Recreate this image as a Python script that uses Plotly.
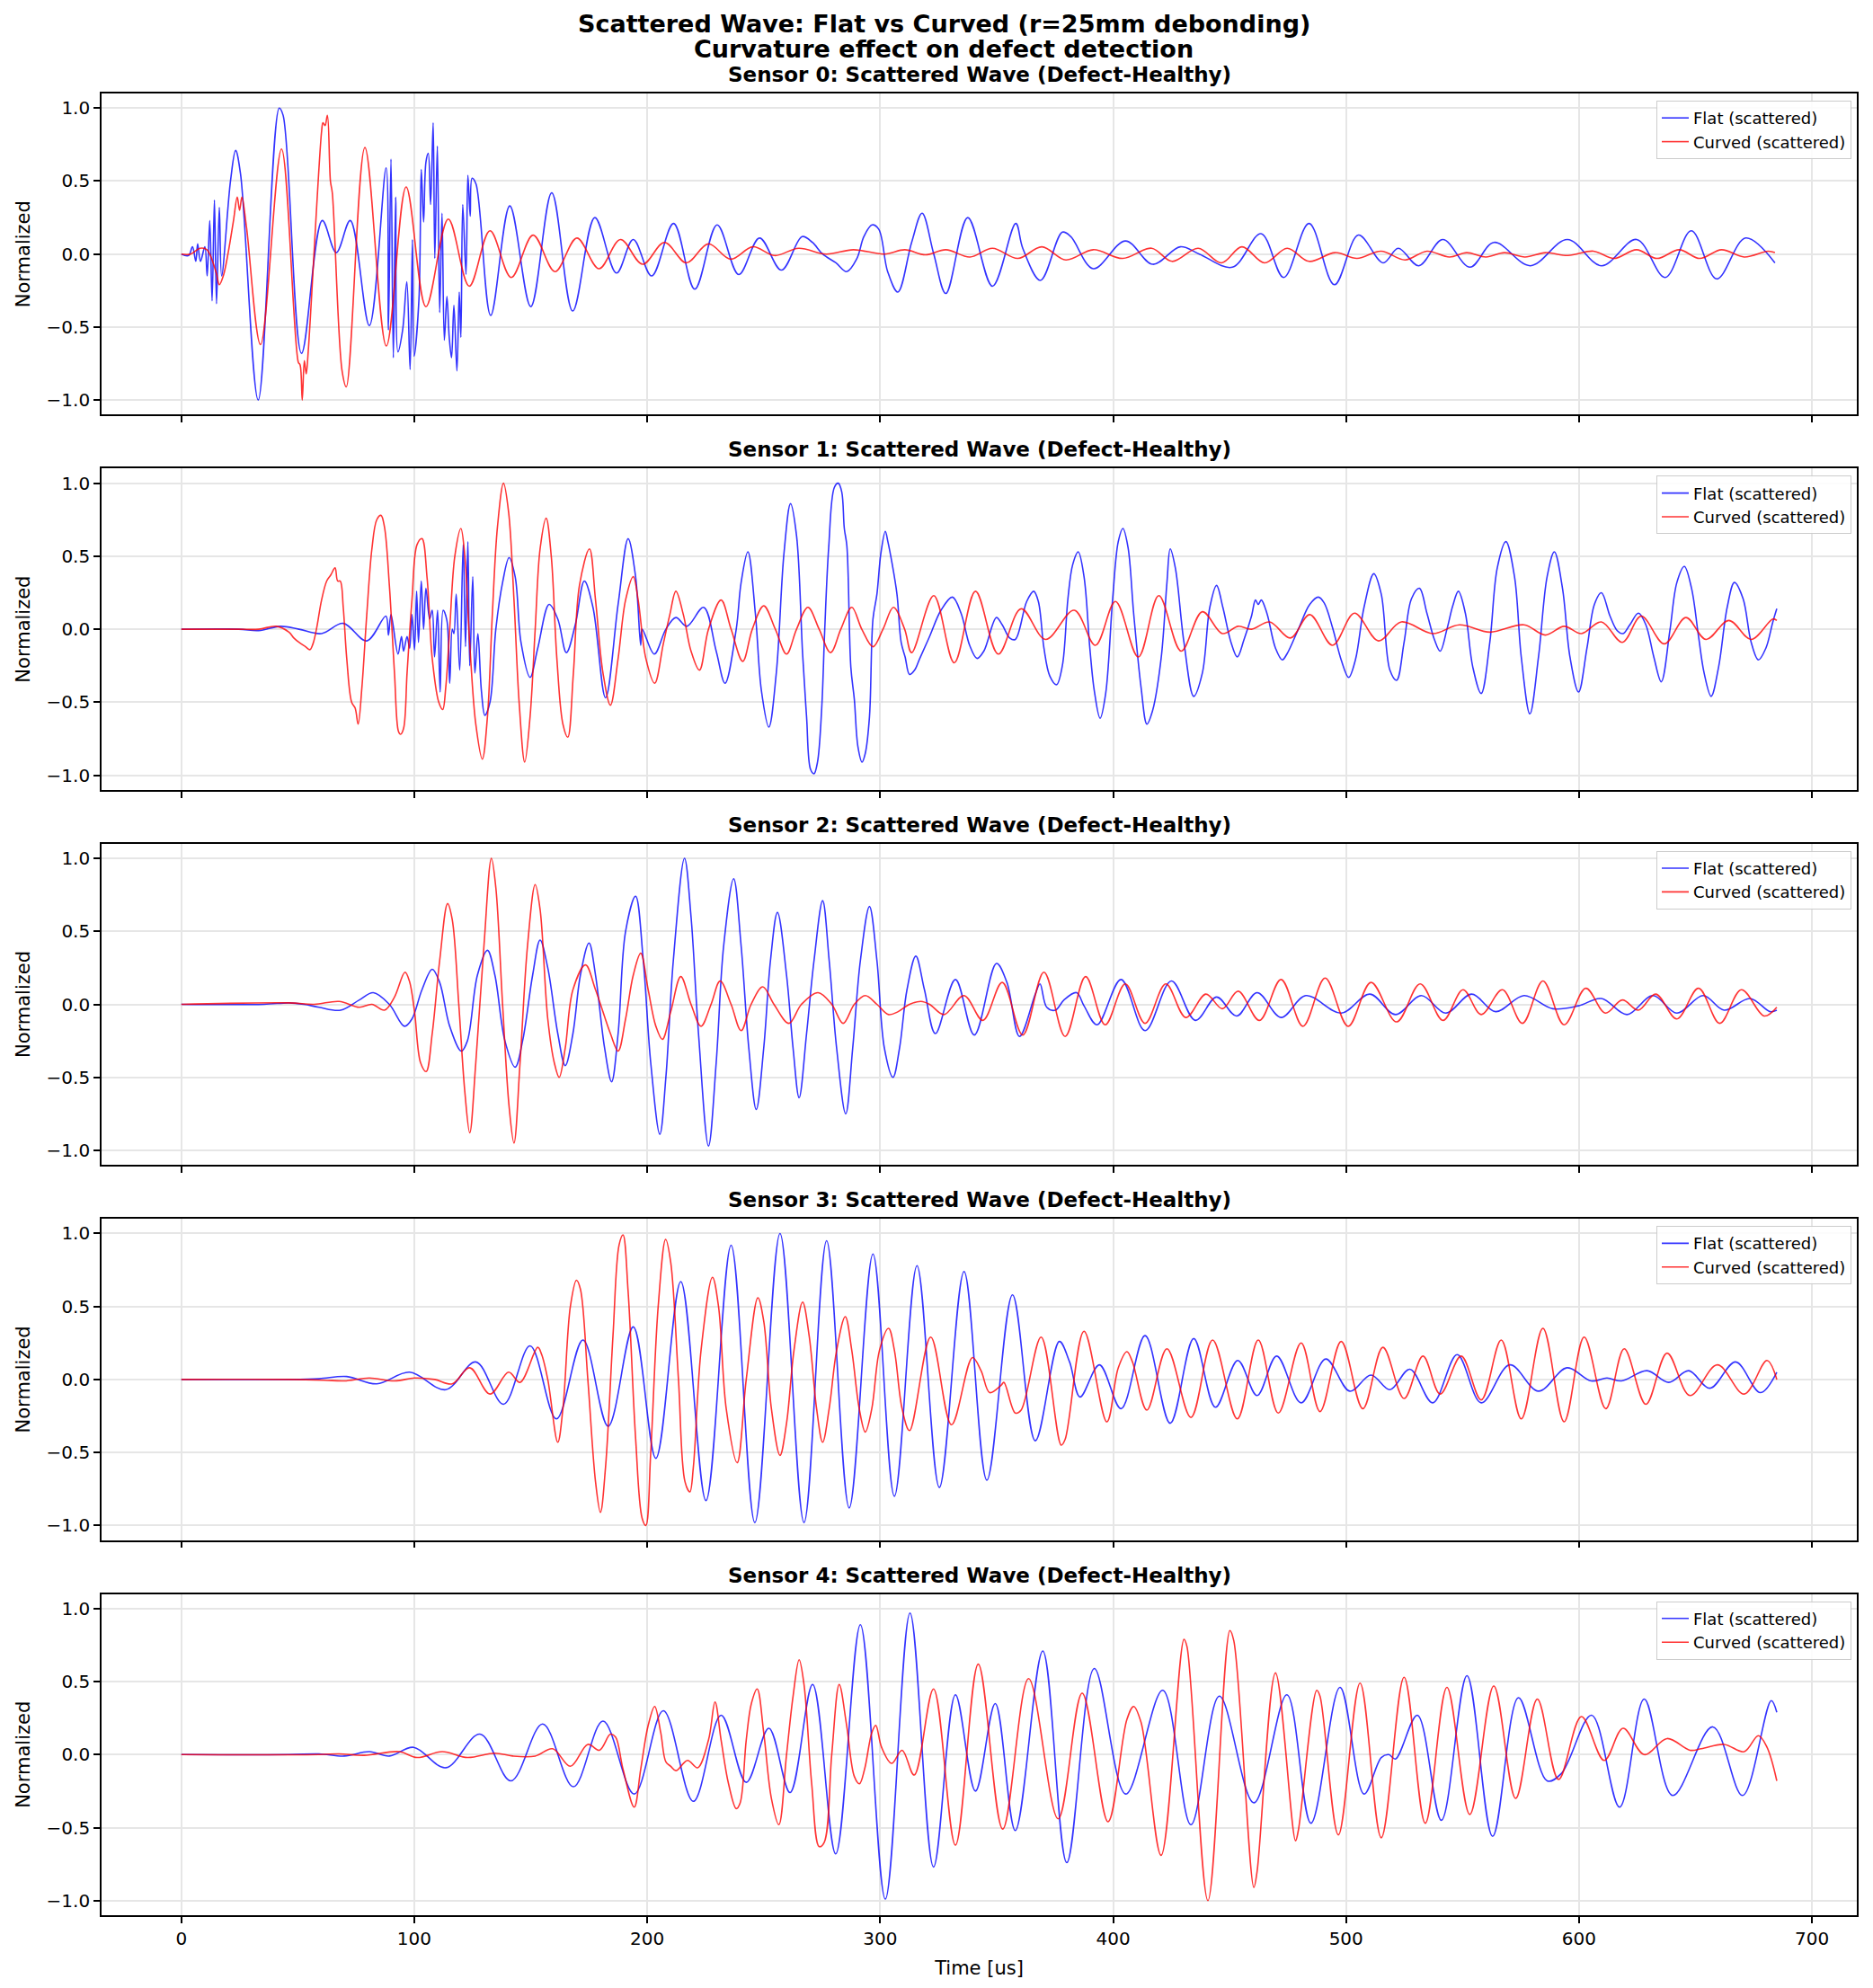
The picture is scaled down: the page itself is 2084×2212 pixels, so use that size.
import plotly.graph_objects as go
from plotly.subplots import make_subplots

# (time_us, normalized) points, one list per trace
s0_flat = [(0, 0), (3.1, -0.01), (4.8, 0.05), (6.2, -0.05), (7.0, 0.07), (8.2, -0.05), (10.1, 0.05), (11.1, -0.15),
           (12.2, 0.23), (13.2, -0.32), (14.2, 0.37), (15.1, -0.34), (16.3, 0.32), (17.3, -0.15), (21.1, 0.5),
           (23.3, 0.71), (25.4, 0.55), (33, -1.0), (42, 1.0), (43.7, 0.95), (51.6, -0.68), (60.5, 0.23), (66.5, 0.01),
           (72.5, 0.23), (80.7, -0.49), (87.9, 0.59), (88.9, -0.52), (90, 0.65), (91, -0.71), (92, 0.39), (93, -0.67),
           (95, -0.52), (96.8, -0.19), (98.2, -0.79), (99.2, 0.1), (99.9, -0.7), (102, -0.31), (103, 0.58), (104, 0.22),
           (105, 0.63), (106, 0.69), (107, 0.34), (108.1, 0.9), (108.8, -0.03), (109.9, 0.74), (110.9, -0.4),
           (111.9, 0.28), (112.9, -0.59), (114, -0.29), (115, -0.57), (116, -0.71), (117, -0.35), (118.3, -0.8),
           (119.3, -0.26), (120, -0.57), (120.8, 0.34), (122.2, -0.14), (123, 0.54), (124, 0.26), (124.8, 0.52),
           (126.5, 0.48), (132.8, -0.42), (141, 0.33), (150, -0.36), (159, 0.42), (168, -0.39), (177.5, 0.25),
           (186.8, -0.13), (194, 0.1), (201.9, -0.15), (211.3, 0.21), (220.4, -0.24), (230, 0.2), (239.3, -0.14),
           (248.2, 0.11), (257.6, -0.11), (266.5, 0.12), (270.9, 0.08), (275.3, 0.0), (281, -0.06), (285.6, -0.12),
           (290, -0.03), (293, 0.12), (296.5, 0.2), (299.4, 0.17), (303.2, -0.12), (307.6, -0.26), (313.5, 0.08),
           (318, 0.28), (323, 0.0), (328.2, -0.27), (337.6, 0.25), (348.2, -0.22), (358.2, 0.21), (361.2, 0.04),
           (368.8, -0.18), (378.2, 0.15), (381.8, 0.12), (391.5, -0.1), (405.3, 0.09), (417, -0.07), (428.8, 0.05),
           (437, 0.0), (451.2, -0.09), (463.5, 0.14), (473.2, -0.16), (484.1, 0.21), (495, -0.21), (505.3, 0.13),
           (515.9, -0.06), (522.4, 0.04), (531.2, -0.08), (541.5, 0.1), (553.2, -0.09), (563.5, 0.08), (579.1, -0.08),
           (595, 0.1), (609.7, -0.08), (624.7, 0.1), (637, -0.16), (648.2, 0.16), (659.1, -0.17), (671.5, 0.11),
           (684.1, -0.06)]
s0_curved = [(0, 0), (4, 0.0), (8, 0.04), (11, 0.03), (15, -0.13), (16.3, -0.21), (18, -0.15), (20, 0.0), (22.3, 0.22),
             (24, 0.39), (25, 0.3), (26, 0.39), (28, 0.18), (34, -0.62), (43, 0.72), (50.2, -0.74), (51, -0.76),
             (51.9, -1.0), (52.8, -0.73), (53.6, -0.82), (54.5, -0.66), (60.2, 0.84), (60.8, 0.9), (61.7, 0.88),
             (62.7, 0.95), (64, 0.5), (64.8, 0.42), (69, -0.8), (70.8, -0.91), (78.8, 0.73), (88, -0.63), (96.5, 0.46),
             (105, -0.36), (114.6, 0.24), (123.6, -0.22), (132.5, 0.16), (141.6, -0.16), (151, 0.13), (160.4, -0.12),
             (169.8, 0.11), (179.3, -0.1), (188.5, 0.1), (198, -0.07), (207.4, 0.08), (216.8, -0.06), (226.2, 0.07),
             (235.8, -0.035), (245.3, 0.05), (254.7, -0.01), (265, 0.04), (276.8, 0.0), (288.5, 0.03), (301.8, 0.0),
             (310.6, 0.03), (319.4, -0.005), (328.2, 0.03), (338.5, -0.02), (348.2, 0.04), (359.1, -0.03),
             (369.4, 0.05), (379.7, -0.04), (391.5, 0.03), (404.1, -0.03), (416.5, 0.04), (425.3, -0.05),
             (436.5, 0.04), (446.5, -0.06), (455.3, 0.05), (465, -0.06), (474.7, 0.04), (484.1, -0.05), (495.3, 0.01),
             (504.7, -0.03), (515, 0.02), (525.3, -0.04), (534.7, 0.02), (544.4, -0.02), (551.8, 0.01), (560, -0.02),
             (568, 0.01), (576.8, -0.02), (585.6, 0.01), (595.3, -0.01), (606.2, 0.02), (615, -0.03), (624.7, 0.03),
             (633.5, -0.03), (643, 0.03), (651.8, -0.03), (661.2, 0.03), (670.9, -0.02), (681.2, 0.02), (684.1, 0.01)]

s1_flat = [(0, 0), (24.6, 0), (33.2, -0.01), (42.5, 0.02), (50.5, 0.0), (60.2, -0.03), (69.5, 0.04), (79.6, -0.08),
           (87.8, 0.09), (88.9, -0.04), (90, 0.1), (93, -0.17), (94.5, -0.05), (95.4, -0.15), (96.9, -0.05),
           (98, -0.13), (99, 0.1), (100.1, -0.14), (101, 0.26), (101.8, -0.09), (103, 0.33), (104, 0.0), (105, 0.28),
           (106.6, 0.07), (107.7, 0.13), (108.7, -0.19), (110, 0.13), (111.1, -0.43), (112.4, 0.13), (114, 0.06),
           (115.2, -0.37), (116.3, 0.0), (117, -0.03), (118, 0.24), (119.5, -0.28), (121, 0.58), (122, -0.12),
           (123, 0.6), (123.8, -0.25), (125.1, 0.36), (126, -0.3), (127.3, -0.03), (128.8, -0.42), (130.3, -0.59),
           (132.5, -0.5), (135, 0.0), (137.9, 0.32), (140.7, 0.49), (143.3, 0.36), (145.8, -0.09), (149.7, -0.33),
           (153, -0.13), (157.9, 0.17), (161.6, 0.07), (165.3, -0.16), (169.1, 0.03), (173, 0.33), (176.7, 0.15),
           (182.1, -0.47), (187.5, 0.17), (191.8, 0.62), (195, 0.36), (197.2, -0.11), (197.8, 0.0), (203, -0.17),
           (208, 0.0), (212.3, 0.08), (217, 0.02), (224.2, 0.15), (229.6, -0.15), (233.4, -0.37), (238.2, 0.0),
           (240.3, 0.32), (243.2, 0.53), (246.4, 0.11), (249, -0.42), (252.2, -0.67), (255.4, -0.3), (258.7, 0.52),
           (261.5, 0.86), (264.1, 0.64), (266.7, -0.17), (268.4, -0.6), (270.1, -0.96), (271.6, -0.99),
           (273.1, -0.91), (274.9, -0.54), (276.2, 0.0), (277.9, 0.56), (280.3, 0.97), (282, 1.0), (283.5, 0.94),
           (284.6, 0.69), (285.7, 0.57), (287.4, -0.26), (288.9, -0.48), (290.4, -0.8), (292.2, -0.91),
           (293.6, -0.85), (295.4, -0.6), (296.9, 0.07), (298.6, 0.24), (300.3, 0.52), (302.2, 0.67), (303.3, 0.6),
           (305, 0.46), (307.2, 0.24), (309, -0.09), (310.7, -0.19), (312.6, -0.31), (314.8, -0.28), (317, -0.2),
           (321.2, -0.05), (326.1, 0.13), (331, 0.22), (334.7, 0.11), (338.4, -0.11), (341.6, -0.2), (344.5, -0.15),
           (349.9, 0.08), (352.4, 0.03), (355.6, -0.06), (358, -0.07), (362.9, 0.19), (365.9, 0.26), (367.9, 0.19),
           (370.3, -0.13), (372.8, -0.32), (375.7, -0.38), (378.2, -0.25), (380.6, 0.21), (382.6, 0.44),
           (385, 0.53), (387.5, 0.36), (390, -0.13), (391.9, -0.42), (394.4, -0.61), (396.8, -0.44), (399.8, 0.21),
           (402.2, 0.6), (404.2, 0.69), (406.4, 0.56), (408.8, 0.11), (412, -0.4), (414.5, -0.65), (416.9, -0.56),
           (420.6, -0.2), (423.1, 0.32), (424.5, 0.55), (426.7, 0.42), (430.4, -0.09), (434.6, -0.46),
           (438.3, -0.3), (441.5, 0.15), (444.4, 0.3), (447.1, 0.15), (450.6, -0.09), (453.3, -0.19),
           (456.2, -0.07), (459.4, 0.09), (461.1, 0.2), (462.3, 0.17), (463.6, 0.2), (466, 0.11), (469.7, -0.13),
           (472.6, -0.21), (474.6, -0.17), (479.5, 0.0), (484.4, 0.17), (488.1, 0.22), (490.6, 0.18),
           (494.2, 0.01), (497.9, -0.21), (501.1, -0.33), (504, -0.21), (507.7, 0.15), (511.9, 0.38),
           (515.1, 0.24), (518.8, -0.28), (521.7, -0.35), (524.9, -0.09), (528.1, 0.21), (531.5, 0.28),
           (534.7, 0.11), (537.9, -0.07), (540.4, -0.15), (543.3, 0.0), (545.8, 0.16), (548.2, 0.26),
           (551.2, 0.11), (554.4, -0.26), (558, -0.44), (561.7, -0.09), (564.9, 0.42), (568.6, 0.6),
           (572.3, 0.36), (575.2, -0.19), (578.9, -0.58), (582.6, -0.19), (586.3, 0.36), (589.4, 0.53),
           (592.9, 0.28), (596.1, -0.19), (599.8, -0.43), (603.4, -0.13), (606.6, 0.17), (609.6, 0.25),
           (613.3, 0.09), (616.4, -0.01), (618.9, -0.03), (621.8, 0.03), (625.5, 0.11), (628.7, 0.03),
           (632.1, -0.19), (635.3, -0.36), (639, -0.01), (642, 0.32), (645.2, 0.43), (648.3, 0.28),
           (651.3, -0.05), (653.7, -0.3), (656.7, -0.46), (659.9, -0.26), (663.6, 0.15), (666.7, 0.32),
           (670.4, 0.21), (673.9, -0.09), (677, -0.21), (680.2, -0.13), (683.2, 0.05), (684.9, 0.14)]
s1_curved = [(0, 0), (24.6, 0), (33.2, 0.0), (40.8, 0.02), (46.2, -0.02), (48.3, -0.06), (50.5, -0.09), (53.3, -0.12),
             (55.2, -0.14), (56.5, -0.1), (58, 0.0), (60.2, 0.2), (62.4, 0.33), (64.1, 0.37), (66, 0.42),
             (67.1, 0.33), (68.2, 0.33), (69.5, 0.15), (71, -0.2), (73.1, -0.5), (74.6, -0.54), (75.9, -0.65),
             (77.5, -0.4), (79.6, 0.1), (81.8, 0.55), (83.9, 0.75), (85.7, 0.78), (87.2, 0.7), (89.3, 0.3),
             (91.5, -0.3), (93.2, -0.7), (94.1, -0.72), (95.4, -0.68), (96.9, -0.3), (99, 0.2), (101.2, 0.58),
             (103.3, 0.62), (105.5, 0.35), (107.7, -0.2), (110.5, -0.5), (112.2, -0.55), (113.5, -0.4), (115.2, 0.0),
             (117.4, 0.5), (120, 0.69), (121.7, 0.5), (123.8, -0.1), (126.4, -0.65), (129.2, -0.89), (131.4, -0.6),
             (133.5, 0.1), (135.7, 0.7), (138.3, 1.0), (140.5, 0.8), (142.8, 0.2), (145, -0.5), (147.4, -0.91),
             (149.7, -0.6), (151.9, 0.0), (154, 0.55), (156.6, 0.76), (158.8, 0.5), (161.2, -0.2), (163.8, -0.65),
             (165.9, -0.74), (168.3, -0.3), (170.9, 0.3), (175.2, 0.55), (177.8, 0.2), (181, -0.3), (184.2, -0.52),
             (187.5, -0.2), (190.7, 0.2), (194, 0.36), (196.1, 0.2), (199.4, -0.2), (203.2, -0.37), (206.9, -0.1),
             (209.7, 0.1), (212.3, 0.26), (215.5, 0.1), (218.8, -0.15), (222.4, -0.28), (226.3, 0.0), (231.7, 0.2),
             (236, 0.0), (241, -0.22), (245.1, 0.0), (250, 0.16), (255, 0.0), (259.8, -0.17), (264.1, 0.0),
             (269, 0.15), (273.8, 0.0), (278.7, -0.16), (283.1, 0.0), (287.8, 0.15), (292.1, 0.0), (296.9, -0.12),
             (301.2, 0.0), (305.7, 0.15), (310.5, 0.0), (313.5, -0.16), (323, 0.23), (331.8, -0.23), (340.9, 0.26),
             (350.7, -0.17), (360.5, 0.14), (371, -0.07), (383.3, 0.13), (392.4, -0.11), (401, 0.19),
             (410.8, -0.19), (419.6, 0.23), (429.2, -0.15), (438.3, 0.12), (446.9, -0.03), (453.7, 0.02),
             (459.4, 0.0), (467.2, 0.05), (476.1, -0.06), (484.4, 0.1), (494.2, -0.11), (503.6, 0.11),
             (513.9, -0.08), (523.7, 0.05), (537.2, -0.03), (548.7, 0.03), (561.7, -0.02), (576.4, 0.03),
             (585.5, -0.04), (593.6, 0.02), (601, -0.03), (609.6, 0.05), (618.6, -0.09), (626.7, 0.09),
             (636.6, -0.1), (645.9, 0.08), (654.5, -0.07), (664.3, 0.06), (673.9, -0.07), (683.2, 0.07),
             (684.9, 0.06)]

s2_flat = [(0, 0), (35.4, 0), (46.2, 0.01), (52.6, 0.0), (59.1, -0.02), (68.4, -0.04), (76.4, 0.03), (82.4, 0.08),
           (89.3, 0.0), (95.8, -0.15), (99, -0.1), (103.3, 0.1), (107.7, 0.24), (110.9, 0.15), (115.2, -0.15),
           (120.2, -0.32), (122.8, -0.25), (127.1, 0.2), (131.4, 0.37), (134.6, 0.2), (138.9, -0.25), (143.3, -0.43),
           (146.5, -0.25), (150.8, 0.2), (154, 0.44), (157.3, 0.25), (161.6, -0.2), (164.8, -0.42), (168.1, -0.2),
           (171.3, 0.2), (175, 0.42), (177.8, 0.2), (181.7, -0.3), (184.7, -0.53), (187.5, -0.2), (190.7, 0.5),
           (195, 0.74), (198.3, 0.3), (201.5, -0.4), (205.4, -0.89), (208, -0.5), (211.2, 0.3), (216, 1.0),
           (218.8, 0.6), (222, -0.2), (226.3, -0.97), (229.6, -0.4), (232.8, 0.4), (237.1, 0.86), (240.3, 0.4),
           (243.6, -0.3), (246.8, -0.72), (250, -0.3), (252.9, 0.3), (255.9, 0.63), (259.8, 0.2), (262.6, -0.3),
           (265.2, -0.64), (268.4, -0.2), (271.6, 0.3), (275.3, 0.71), (278.1, 0.3), (281.3, -0.3), (285.2, -0.75),
           (288.2, -0.3), (291.5, 0.3), (295.4, 0.67), (298.6, 0.3), (301.8, -0.3), (305.5, -0.5), (308.3, -0.3),
           (311.5, 0.1), (315.3, 0.33), (319, 0.1), (323.7, -0.2), (332.3, 0.17), (340.4, -0.21), (349.9, 0.28),
           (354.4, 0.15), (359.8, -0.22), (366.6, 0.07), (368.6, 0.14), (371.5, -0.02), (375.2, -0.04),
           (378.9, 0.03), (384.3, 0.08), (387.5, -0.01), (393.1, -0.14), (403.4, 0.17), (413.7, -0.18), (425, 0.16),
           (435.3, -0.11), (444.4, 0.05), (453, -0.08), (461.8, 0.08), (472.1, -0.09), (482.7, 0.06),
           (497.9, -0.06), (510.2, 0.07), (521.2, -0.07), (532.3, 0.06), (542.8, -0.06), (553.9, 0.07),
           (564.2, -0.05), (576.4, 0.06), (588.7, -0.03), (599.8, -0.01), (609.6, 0.04), (620.6, -0.07),
           (631.7, 0.06), (642, -0.06), (653.3, 0.06), (662.3, -0.04), (673.4, 0.04), (682, -0.05), (684.9, -0.04)]
s2_curved = [(0, 0), (46.2, 0.01), (57, 0.0), (67.7, 0.02), (76.4, -0.02), (81.8, 0.0), (87.2, -0.04), (91.5, 0.05),
             (96, 0.22), (97.9, 0.16), (100.1, -0.05), (102.7, -0.4), (105.1, -0.46), (107.7, -0.2), (110.9, 0.3),
             (114.3, 0.69), (116.3, 0.58), (119.1, 0.0), (121.7, -0.6), (123.8, -0.88), (126.4, -0.4), (129.9, 0.4),
             (133.1, 1.0), (135, 0.8), (137.9, 0.0), (140.7, -0.7), (142.8, -0.95), (145.4, -0.4), (148.6, 0.4),
             (151.9, 0.82), (154, 0.65), (157.3, -0.1), (160.1, -0.4), (162.2, -0.5), (164.8, -0.3), (168.1, 0.1),
             (173.5, 0.27), (177.8, 0.1), (184.2, -0.2), (187.5, -0.32), (190.7, -0.1), (194, 0.2), (197.2, 0.35),
             (200.4, 0.1), (203.7, -0.15), (206.5, -0.24), (210.1, -0.05), (214.4, 0.19), (218.8, 0.0),
             (223.1, -0.15), (227.4, 0.0), (231.3, 0.16), (236, 0.0), (240.3, -0.18), (244.6, 0.0), (249.6, 0.12),
             (254.4, 0.0), (260.8, -0.13), (266.2, 0.0), (273.3, 0.08), (279.2, 0.0), (284.1, -0.13), (288.9, 0.0),
             (293.6, 0.06), (298.6, 0.0), (303.6, -0.07), (307.7, -0.05), (312.6, 0.0), (317.5, 0.02), (321.2, 0.0),
             (327.4, -0.07), (336, 0.06), (344.1, -0.11), (352.4, 0.15), (361.2, -0.21), (370.3, 0.22),
             (379.4, -0.22), (388.2, 0.19), (396.6, -0.14), (405.2, 0.14), (413.7, -0.13), (422.6, 0.14),
             (431.2, -0.09), (439.8, 0.07), (446.9, -0.03), (453.7, 0.09), (462.8, -0.11), (472.1, 0.17),
             (481.5, -0.15), (491, 0.18), (500.9, -0.15), (510.7, 0.15), (521.7, -0.12), (531.8, 0.14),
             (541.6, -0.11), (550.2, 0.1), (558, -0.07), (567.1, 0.1), (575.7, -0.13), (584.5, 0.16),
             (593.6, -0.14), (602.9, 0.11), (611.3, -0.06), (618.6, 0.03), (625.5, -0.04), (632.9, 0.07),
             (642, -0.1), (651.3, 0.11), (660.4, -0.13), (669.7, 0.1), (679.5, -0.08), (684.9, -0.02)]

s3_flat = [(0, 0), (46.2, 0), (59.1, 0.005), (71, 0.02), (83.9, -0.03), (98, 0.05), (113.5, -0.07), (126.4, 0.12),
           (138.3, -0.17), (149.7, 0.23), (161, -0.27), (172.4, 0.27), (183.2, -0.32), (194, 0.36), (203.7, -0.54),
           (214.4, 0.67), (225.2, -0.83), (236, 0.92), (246.2, -0.98), (257, 1.0), (267.3, -0.98), (277, 0.95),
           (286.7, -0.88), (296.9, 0.86), (306.1, -0.8), (315.8, 0.78), (325.4, -0.74), (336, 0.74), (345.8, -0.69),
           (356.8, 0.58), (366.6, -0.42), (376.9, 0.26), (381.3, 0.12), (385.8, -0.12), (394.1, 0.1), (403.4, -0.2),
           (413.7, 0.3), (424.5, -0.3), (434.6, 0.28), (443.9, -0.19), (453.5, 0.13), (461.8, -0.11), (470.2, 0.16),
           (480.7, -0.16), (491.3, 0.14), (501.6, -0.08), (510.7, 0.03), (518.8, -0.07), (527.4, 0.07),
           (537.2, -0.16), (547.7, 0.17), (558, -0.16), (570.3, 0.1), (582.6, -0.08), (594.8, 0.08),
           (605.2, -0.01), (612, 0.01), (618.2, -0.01), (629.2, 0.06), (638.5, -0.02), (647.1, 0.06),
           (656.2, -0.06), (667.2, 0.12), (677.8, -0.09), (684.9, 0.05)]
s3_curved = [(0, 0), (46.2, 0), (61.3, -0.005), (69.9, -0.01), (80.7, 0.01), (91.5, -0.01), (100.1, 0.01), (108.7, 0.0),
             (116.3, -0.03), (123.8, 0.08), (132.5, -0.1), (140.5, 0.05), (145.4, -0.02), (153, 0.22), (154.7, 0.17),
             (157.3, 0.0), (161.6, -0.43), (163.8, -0.2), (167, 0.5), (169.6, 0.68), (171.3, 0.62), (174.5, 0.0),
             (177.8, -0.7), (179.9, -0.91), (182.1, -0.6), (185.3, 0.3), (187.9, 0.92), (189.6, 0.99), (191.8, 0.6),
             (195, -0.4), (197.8, -0.95), (199.4, -1.0), (201.5, -0.5), (204.7, 0.5), (207.9, 0.96), (210.1, 0.8),
             (213.4, 0.0), (216.2, -0.7), (218.3, -0.77), (219.8, -0.6), (223.1, 0.2), (228, 0.7), (230.6, 0.5),
             (233.9, -0.2), (238.6, -0.57), (242.5, 0.0), (247.5, 0.56), (250, 0.4), (253.3, -0.2), (257, -0.52),
             (259.8, -0.3), (263, 0.2), (266.7, 0.53), (269.5, 0.3), (272.7, -0.2), (275.3, -0.43), (278.1, -0.2),
             (281.3, 0.2), (285, 0.43), (287.8, 0.2), (291, -0.2), (293.6, -0.36), (296.4, -0.2), (299.7, 0.2),
             (303.6, 0.35), (306.1, 0.2), (309.4, -0.2), (312.6, -0.35), (321.7, 0.29), (330.6, -0.31),
             (339.6, 0.15), (343.3, 0.06), (347, -0.09), (351.9, -0.04), (353.1, -0.02), (358, -0.23),
             (360.5, -0.21), (369.1, 0.29), (377.7, -0.45), (379.4, -0.41), (387.5, 0.33), (397.3, -0.29),
             (402.2, 0.08), (405.9, 0.19), (408.3, 0.12), (414.5, -0.21), (423.1, 0.21), (433.4, -0.26),
             (442.7, 0.27), (453.3, -0.27), (462.3, 0.27), (470.9, -0.23), (480.7, 0.25), (488.8, -0.22),
             (497.9, 0.26), (507.2, -0.2), (515.8, 0.22), (524.9, -0.13), (533, 0.16), (540.4, -0.1),
             (549.4, 0.16), (558, -0.14), (566.6, 0.27), (575.2, -0.27), (584.5, 0.35), (593.6, -0.29),
             (602.2, 0.29), (611.5, -0.2), (619.4, 0.21), (628.7, -0.17), (637.8, 0.18), (647.6, -0.11),
             (659.4, 0.1), (670.9, -0.1), (680.7, 0.13), (684.9, 0.0)]

s4_flat = [(0, 0), (46.2, 0), (59.1, 0.005), (69.9, -0.01), (80.7, 0.02), (89.3, -0.01), (99.7, 0.05), (113.5, -0.09),
           (128.2, 0.14), (141.5, -0.18), (155.1, 0.21), (168.3, -0.22), (181, 0.23), (194.4, -0.27), (206.9, 0.3),
           (219.8, -0.32), (231.7, 0.27), (242.5, -0.19), (252.2, 0.18), (261.3, -0.26), (271, 0.48),
           (280.9, -0.68), (291.5, 0.89), (302.2, -0.99), (312.8, 0.97), (322.9, -0.77), (332.3, 0.41),
           (340.9, -0.25), (349.4, 0.35), (358, -0.52), (369.8, 0.71), (380.1, -0.74), (391.9, 0.59),
           (405.4, -0.27), (421.3, 0.44), (433.4, -0.48), (445.6, 0.4), (460.4, -0.33), (474.6, 0.41),
           (484.9, -0.47), (497.4, 0.46), (507.7, -0.27), (515.1, -0.02), (518.3, 0.0), (521.2, -0.03),
           (530.6, 0.27), (540.9, -0.45), (551.9, 0.54), (562.9, -0.56), (574, 0.39), (586.3, -0.18),
           (592.4, -0.13), (605.4, 0.27), (617.4, -0.36), (628, 0.38), (640.2, -0.28), (657.4, 0.19),
           (670.2, -0.28), (682.5, 0.37), (684.9, 0.29)]
s4_curved = [(0, 0), (59.1, 0.0), (67.7, 0.005), (78.5, -0.005), (93.6, 0.02), (101.2, -0.02), (112, 0.02),
             (122.8, -0.02), (134.6, 0.01), (142.2, -0.01), (151.9, -0.01), (159.4, 0.04), (167, -0.08),
             (174.5, 0.07), (179.5, 0.03), (184.2, 0.14), (186.4, 0.12), (189.6, -0.1), (194.4, -0.36),
             (197.2, -0.1), (200.4, 0.2), (203.2, 0.33), (205.8, 0.15), (208, -0.05), (210.1, -0.08),
             (212.3, -0.11), (217.3, -0.04), (221.6, -0.09), (226.3, 0.1), (229.1, 0.36), (231.7, 0.1),
             (234.9, -0.2), (238.2, -0.37), (239.9, -0.33), (242.5, 0.1), (244.7, 0.35), (247.2, 0.45), (250, 0.15),
             (253.3, -0.3), (256.5, -0.48), (259.8, 0.0), (262.6, 0.4), (265.2, 0.65), (267.3, 0.48),
             (270.6, -0.2), (273.8, -0.63), (276, -0.6), (279.2, 0.0), (282.4, 0.48), (285.6, 0.2), (288.9, -0.15),
             (291.1, -0.2), (293.3, -0.1), (296.4, 0.15), (298.1, 0.2), (300.6, 0.05), (304.9, -0.06),
             (309.4, 0.03), (314.6, -0.14), (322.9, 0.45), (332.3, -0.62), (342.1, 0.62), (352.6, -0.51),
             (363.7, 0.52), (376.4, -0.44), (386.7, 0.42), (397.8, -0.46), (405.9, 0.24), (408.8, 0.33),
             (412, 0.22), (420.6, -0.69), (430.4, 0.79), (431.7, 0.74), (440.7, -1.0), (450.1, 0.85),
             (451.8, 0.78), (460.4, -0.91), (461.8, -0.8), (469.7, 0.56), (478.3, -0.59), (479.5, -0.52),
             (487.4, 0.44), (488.8, 0.4), (496.7, -0.55), (506, 0.49), (515.1, -0.57), (524.9, 0.53),
             (534, -0.47), (543.3, 0.46), (553.1, -0.41), (563.4, 0.47), (572.8, -0.3), (582.1, 0.38),
             (591.2, -0.17), (601, 0.26), (610.8, -0.04), (618.9, 0.18), (628, 0.0), (637.8, 0.11), (647.6, 0.03),
             (652.5, 0.04), (662.3, 0.07), (670.9, 0.02), (677, 0.13), (680.7, 0.05), (684.9, -0.18)]

sensors = [(s0_flat, s0_curved), (s1_flat, s1_curved), (s2_flat, s2_curved),
           (s3_flat, s3_curved), (s4_flat, s4_curved)]
titles = [f"<b>Sensor {i}: Scattered Wave (Defect-Healthy)</b>" for i in range(5)]
suptitle = ["Scattered Wave: Flat vs Curved (r=25mm debonding)", "Curvature effect on defect detection"]

FONT = "DejaVu Sans"
W, H = 2084, 2212
M = dict(l=105, r=26, t=96, b=89)
plot_w = W - M["l"] - M["r"]
plot_h = H - M["t"] - M["b"]

fig = make_subplots(rows=5, cols=1, shared_xaxes=True,
                    vertical_spacing=60 / plot_h, subplot_titles=titles)

for i, (flat, curved) in enumerate(sensors):
    leg = "legend" if i == 0 else f"legend{i + 1}"
    t, v = zip(*flat)
    fig.add_trace(go.Scatter(x=t, y=v, mode="lines", name="Flat (scattered)", legend=leg,
                             line=dict(color="rgba(0,0,255,0.8)", width=1.6, shape="spline")),
                  row=i + 1, col=1)
    t, v = zip(*curved)
    fig.add_trace(go.Scatter(x=t, y=v, mode="lines", name="Curved (scattered)", legend=leg,
                             line=dict(color="rgba(255,0,0,0.8)", width=1.6, shape="spline")),
                  row=i + 1, col=1)

    dom = fig.layout["yaxis" if i == 0 else f"yaxis{i + 1}"].domain
    fig.update_layout({leg: dict(
        x=1 - 6 / plot_w, y=dom[1] - 8 / plot_h, xanchor="right", yanchor="top",
        bgcolor="rgba(255,255,255,0.85)", bordercolor="#cccccc", borderwidth=1,
        font=dict(family=FONT, size=18, color="black"), tracegroupgap=0,
    )})

fig.update_annotations(font=dict(family=FONT, size=23, color="black"), yshift=6)

# figure title, two bold lines centred on the page
cx = (W / 2 - M["l"]) / plot_w
for line, ypx in zip(suptitle, [19, 46]):
    fig.add_annotation(text=f"<b>{line}</b>", xref="paper", yref="paper",
                       x=cx, y=1 + (M["t"] - ypx) / plot_h, xanchor="center", yanchor="middle",
                       showarrow=False, font=dict(family=FONT, size=27, color="black"))

fig.update_xaxes(range=[-34.25, 719.25], tickvals=[0, 100, 200, 300, 400, 500, 600, 700],
                 showline=True, linecolor="black", linewidth=1.6, mirror=True,
                 ticks="outside", ticklen=7, tickwidth=1.6, tickcolor="black",
                 showgrid=True, gridcolor="#e6e6e6", gridwidth=1.5, zeroline=False,
                 tickfont=dict(family=FONT, size=20, color="black"))
fig.update_xaxes(title=dict(text="Time [us]", font=dict(family=FONT, size=21, color="black")),
                 row=5, col=1)
fig.update_yaxes(range=[-1.1, 1.1], tickvals=[-1.0, -0.5, 0.0, 0.5, 1.0], tickformat=".1f",
                 showline=True, linecolor="black", linewidth=1.6, mirror=True,
                 ticks="outside", ticklen=7, tickwidth=1.6, tickcolor="black",
                 showgrid=True, gridcolor="#e6e6e6", gridwidth=1.5, zeroline=False,
                 tickfont=dict(family=FONT, size=20, color="black"),
                 title=dict(text="Normalized", font=dict(family=FONT, size=21, color="black"), standoff=12))

fig.update_layout(
    width=W, height=H, margin=M,
    paper_bgcolor="white", plot_bgcolor="white",
    font=dict(family=FONT, color="black"),
    showlegend=True,
)

fig.write_html("out.html")
